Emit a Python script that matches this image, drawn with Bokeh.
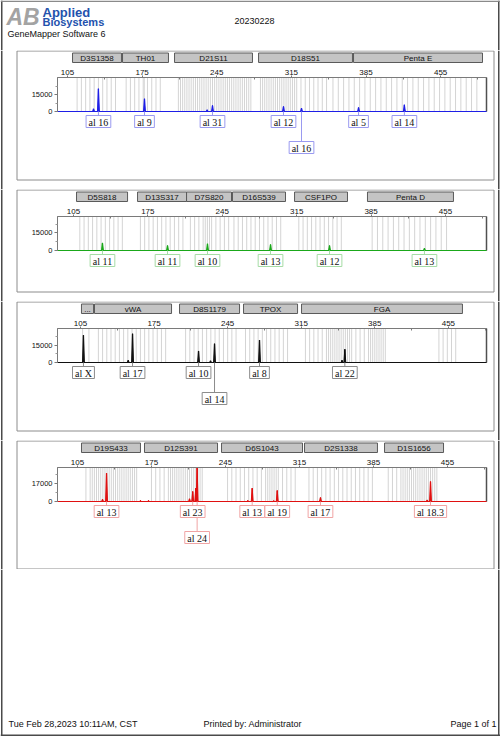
from bokeh.plotting import figure
from bokeh.layouts import column
from bokeh.models import Range1d, FixedTicker
from bokeh.embed import file_html
from bokeh.resources import INLINE
from bokeh.core.properties import value

# ---------------- data ----------------
report_date = "20230228"
software_name = "GeneMapper Software 6"
logo_mark = "AB"
logo_word1 = "Applied"
logo_word2 = "Biosystems"
footer_left = "Tue Feb 28,2023 10:11AM, CST"
footer_mid = "Printed by: Administrator"
footer_right = "Page 1 of 1"

size_ticks = [105, 175, 245, 315, 385, 455]
size_minor_ticks = [140, 210, 280, 350, 420, 490]

# blue dye panel
blue_markers = ["D3S1358", "TH01", "D21S11", "D18S51", "Penta E"]
blue_marker_start = [109.7, 156.6, 205.4, 284.2, 373.3]
blue_marker_end = [155.6, 199.7, 278.5, 372.3, 494.3]
blue_bins = [114, 118, 122, 126, 130, 134, 138, 142, 146, 150,
             160, 164, 168, 172, 176, 177, 180, 184, 188, 192,
             209, 211, 213, 215, 217, 219, 221, 223, 225, 227, 229, 231, 233, 235,
             237, 239, 241, 243, 245, 247, 249, 251, 253, 255, 257, 259, 261, 263,
             265, 267, 269, 271, 273, 275, 277,
             286, 288, 290, 292, 294, 296, 298, 300, 302, 304, 306, 308, 310, 312,
             314, 316, 318, 320, 324, 328, 332, 336, 340, 344, 348,
             354, 359, 364, 369, 374, 379, 384, 389, 394, 399, 404, 409, 414, 419,
             424, 429, 434, 439, 444, 449, 454, 459, 464, 469, 474, 479, 484, 489]
blue_peak_bp = [129.4, 134.0, 177.2, 236.0, 241.0, 307.6, 324.5, 378.0, 421.0]
blue_peak_rfu = [2400, 20400, 11400, 1500, 5400, 4500, 3000, 3600, 6000]
blue_allele_bp = [134.0, 177.2, 241.0, 307.6, 324.5, 378.0, 421.0]
blue_allele_text = ["al 16", "al 9", "al 31", "al 12", "al 16", "al 5", "al 14"]
blue_allele_row = [0, 0, 0, 0, 1, 0, 0]
blue_y_max = 30500
blue_y_tick = 15000

# green dye panel
green_markers = ["D5S818", "D13S317", "D7S820", "D16S539", "CSF1PO", "Penta D"]
green_marker_start = [107.9, 165.3, 211.4, 254.6, 313.0, 381.6]
green_marker_end = [155.9, 211.4, 253.7, 304.5, 362.8, 462.5]
green_bins = [111, 115, 119, 123, 127, 131, 135, 139, 143, 147, 151,
              168, 172, 176, 180, 184, 188, 192, 196, 200, 204, 208,
              215, 219, 223, 227, 229, 231, 233, 235, 239, 243, 247, 251,
              256, 260, 264, 268, 272, 276, 280, 284, 288, 292, 296, 300,
              317, 321, 325, 329, 333, 337, 341, 345, 349, 353, 357,
              386, 391, 396, 401, 406, 411, 416, 421, 426, 431, 436, 441, 446, 451, 456]
green_peak_bp = [132.3, 193.5, 231.1, 290.4, 345.9, 435.2]
green_peak_rfu = [6500, 4200, 5700, 5100, 4200, 2000]
green_allele_bp = [132.3, 193.5, 231.1, 290.4, 345.9, 435.2]
green_allele_text = ["al 11", "al 11", "al 10", "al 13", "al 12", "al 13"]
green_allele_row = [0, 0, 0, 0, 0, 0]
green_y_max = 29000
green_y_tick = 15000

# black (yellow dye) panel
black_markers = ["...", "vWA", "D8S1179", "TPOX", "FGA"]
black_marker_start = [105.9, 118.3, 199.2, 260.1, 315.3]
black_marker_end = [117.4, 191.6, 256.3, 311.5, 468.4]
black_bins = [107, 113,
              122, 126, 130, 134, 138, 142, 146, 150, 154, 158, 162, 166, 170, 174, 178, 182, 186,
              205, 209, 213, 217, 221, 225, 229, 233, 237, 241, 245, 249, 253,
              262, 266, 270, 274, 278, 282, 286, 290, 294, 298, 302,
              319, 323, 327, 331, 335, 339, 341, 343, 345, 347, 349, 351, 353, 355, 357,
              359, 361, 363, 367, 371, 375, 379, 381, 383, 385, 387, 389, 391, 393, 395,
              446, 450, 454, 458, 462]
black_peak_bp = [107.8, 150.4, 154.5, 217.3, 228.7, 232.5, 275.3, 353.8, 356.5]
black_peak_rfu = [23700, 2000, 25100, 10100, 1500, 16400, 19600, 2000, 11500]
black_allele_bp = [107.8, 154.5, 217.3, 232.5, 275.3, 356.5]
black_allele_text = ["al X", "al 17", "al 10", "al 14", "al 8", "al 22"]
black_allele_row = [0, 0, 0, 1, 0, 0]
black_y_max = 29700
black_y_tick = 15000

# red dye panel
red_markers = ["D19S433", "D12S391", "D6S1043", "D2S1338", "D1S1656"]
red_marker_start = [108.8, 168.4, 241.3, 319.8, 395.5]
red_marker_end = [164.6, 237.5, 317.9, 388.8, 451.3]
red_bins = [113, 117, 119, 121, 123, 125, 127, 129, 131, 133, 135, 137, 139, 141, 143, 145,
            147, 149, 151, 153, 155, 157, 159, 161,
            175, 179, 183, 187, 191, 193, 195, 197, 199, 201, 203, 205, 207, 209, 211, 213,
            215, 217, 219, 221, 223,
            247, 251, 255, 259, 263, 267, 271, 275, 279, 283, 285, 287, 289, 291, 293, 295,
            299, 303, 307, 311,
            324, 328, 332, 336, 340, 344, 348, 352, 356, 360, 364, 368, 372, 376, 380, 384,
            399, 403, 407, 411, 413, 415, 417, 419, 421, 423, 425, 427, 429, 431, 433, 435,
            437, 439, 441, 443, 445]
red_peak_bp = [128.7, 132.5, 164.6, 172.2, 211.0, 214.0, 216.9, 218.2, 266.1, 270.3,
               290.7, 294.0, 334.9, 435.9, 439.0]
red_peak_rfu = [2000, 26300, 1000, 1000, 2500, 9300, 12400, 40000, 1000, 12400,
                800, 10200, 3700, 1500, 18500]
red_allele_bp = [132.5, 214.0, 218.2, 270.3, 294.0, 334.9, 439.0]
red_allele_text = ["al 13", "al 23", "al 24", "al 13", "al 19", "al 17", "al 18.3"]
red_allele_row = [0, 0, 1, 0, 0, 0, 0]
red_y_max = 31600
red_y_tick = 17000

# ---------------- layout / style ----------------
SANS = "Liberation Sans"
SERIF = "Liberation Serif"
W = 500
PX0, PX1 = 0, 500          # page pixel span covered by the figures
BORDER = "#4a4a4a"

CHAR_W = {"a": 4.44, "l": 2.78, " ": 2.5, ".": 2.5, "X": 7.22}


def label_width(s):
    return sum(CHAR_W.get(c, 5.0) for c in s) + 5


def page_borders(p, y_top, y_bottom, **kw):
    p.segment(x0=[1.25, 498.25], y0=[y_top, y_top],
              x1=[1.25, 498.25], y1=[y_bottom, y_bottom],
              line_color=BORDER, line_width=1.5, **kw)


def make_panel(top, panel_h, fig_h, x0, k, y_max, y_tick, color, soft_color,
               markers, m_start, m_end, bins, peak_bp, peak_rfu,
               al_bp, al_text, al_row):
    plot_top = top + 27
    plot_bot = top + 61
    s = y_max / (plot_bot - plot_top)
    y_start = -(top + fig_h - plot_bot) * s
    y_end = y_max + (plot_top - top) * s
    x_start = x0 + (PX0 - 57) / k
    x_end = x0 + (PX1 - 57) / k
    plot_left = x0
    plot_right = x0 + (486 - 57) / k

    p = figure(width=W, height=fig_h, x_range=Range1d(x_start, x_end),
               y_range=Range1d(y_start, y_end), x_axis_location="above",
               y_axis_location="left", toolbar_location=None, output_backend="svg",
               min_border=0, outline_line_color=None,
               background_fill_color="white", border_fill_color="white")
    p.title.visible = False
    p.grid.visible = False
    p.extra_x_ranges = {"px": Range1d(PX0, PX1)}
    p.extra_y_ranges = {"px": Range1d(top + fig_h, top)}
    px = dict(x_range_name="px", y_range_name="px")

    page_borders(p, top, top + fig_h, **px)
    # panel frame
    p.quad(left=[16.5], right=[493.5], top=[top + 0.5], bottom=[top + panel_h - 0.5],
           fill_color=None, line_color="#8c8c8c", line_width=1, **px)

    # marker header bars
    p.quad(left=m_start, right=m_end, top=[top + 2.5] * len(markers),
           bottom=[top + 12] * len(markers), fill_color="#c4c4c4",
           line_color="#5a5a5a", line_width=1, y_range_name="px")
    p.text(x=[(a + b) / 2 for a, b in zip(m_start, m_end)], y=[top + 7.5] * len(markers),
           text=markers, text_font=value(SANS), text_font_size="8px",
           text_color="#111111", text_align="center", text_baseline="middle",
           y_range_name="px")

    # bins
    p.segment(x0=bins, y0=[0] * len(bins), x1=bins, y1=[y_max] * len(bins),
              line_color="#d4d4d4", line_width=1)
    # plot box
    p.quad(left=[plot_left], right=[plot_right], bottom=[0], top=[y_max],
           fill_color=None, line_color="#8a8a8a", line_width=1)
    p.segment(x0=[plot_right], y0=[0], x1=[plot_right], y1=[y_max],
              line_color="#505050", line_width=1.5)

    # peaks (off-scale peaks are clipped at the plot top)
    clip = [min(h, y_max) for h in peak_rfu]
    p.patches(xs=[[b - 0.9, b, b + 0.9] for b in peak_bp],
              ys=[[0, h, 0] for h in clip],
              fill_color=color, line_color=color, line_width=1)
    p.segment(x0=peak_bp, y0=[0] * len(peak_bp), x1=peak_bp, y1=clip,
              line_color=color, line_width=1.3)
    # baseline
    p.segment(x0=[plot_left], y0=[0], x1=[plot_right], y1=[0],
              line_color=color, line_width=1.2)

    # allele labels
    row_y = [top + 71 + 26 * r for r in al_row]
    p.segment(x0=al_bp, y0=[plot_bot] * len(al_bp), x1=al_bp, y1=[y - 6 for y in row_y],
              line_color=soft_color, line_width=1, y_range_name="px")
    p.rect(x=al_bp, y=row_y, width=[label_width(t) for t in al_text],
           height=[12] * len(al_bp), width_units="screen", height_units="screen",
           fill_color="white", line_color=soft_color, line_width=1, y_range_name="px")
    p.text(x=al_bp, y=[y + 0.5 for y in row_y], text=al_text, text_font=value(SERIF),
           text_font_size="10px", text_color="#111111", text_align="center",
           text_baseline="middle", y_range_name="px")

    # axes
    xa = p.xaxis[0]
    xa.fixed_location = y_max
    xa.ticker = FixedTicker(ticks=size_ticks, minor_ticks=size_minor_ticks)
    xa.bounds = (plot_left, plot_right)
    xa.axis_line_color = "#7a7a7a"
    xa.major_tick_line_color = "#7a7a7a"
    xa.major_tick_in = 0
    xa.major_tick_out = 2
    xa.minor_tick_line_color = "#7a7a7a"
    xa.minor_tick_in = 2
    xa.minor_tick_out = 0
    xa.major_label_text_font = SANS
    xa.major_label_text_font_size = "8px"
    xa.major_label_text_color = "#111111"
    xa.major_label_standoff = 1

    ya = p.yaxis[0]
    ya.fixed_location = plot_left
    ya.ticker = FixedTicker(ticks=[0, y_tick], minor_ticks=[y_tick / 2, y_tick * 1.5])
    ya.bounds = (0, y_max)
    ya.axis_line_color = "#7a7a7a"
    ya.major_tick_line_color = "#7a7a7a"
    ya.major_tick_in = 0
    ya.major_tick_out = 3
    ya.minor_tick_line_color = "#9a9a9a"
    ya.minor_tick_in = 0
    ya.minor_tick_out = 2
    ya.major_label_text_font = SANS
    ya.major_label_text_font_size = "7.5px"
    ya.major_label_text_color = "#111111"
    ya.major_label_standoff = 2
    return p


def plain_fig(y_top, y_bottom):
    p = figure(width=W, height=y_bottom - y_top, x_range=Range1d(PX0, PX1),
               y_range=Range1d(y_bottom, y_top), x_axis_location=None,
               y_axis_location=None, toolbar_location=None, output_backend="svg",
               min_border=0, outline_line_color=None,
               background_fill_color="white", border_fill_color="white")
    p.title.visible = False
    p.xgrid.visible = False
    p.ygrid.visible = False
    page_borders(p, y_top, y_bottom)
    return p


# header
hdr = plain_fig(0, 50)
hdr.segment(x0=[PX0], y0=[0.75], x1=[PX1], y1=[0.75], line_color="#8a8a8a", line_width=1.5)
hdr.text(x=[6], y=[16.5], text=[logo_mark], text_font=value(SANS), text_font_size="23px",
         text_font_style="bold italic", text_color="#a3a3a3", text_align="left",
         text_baseline="middle")
hdr.text(x=[42], y=[11.5], text=[logo_word1], text_font=value(SANS), text_font_size="13px",
         text_font_style="bold", text_color="#2352ad", text_align="left",
         text_baseline="middle")
hdr.text(x=[42], y=[21], text=[logo_word2], text_font=value(SANS), text_font_size="11px",
         text_font_style="bold", text_color="#2352ad", text_align="left",
         text_baseline="middle")
hdr.text(x=[7], y=[33], text=[software_name], text_font=value(SANS), text_font_size="9px",
         text_color="#111111", text_align="left", text_baseline="middle")
hdr.text(x=[254], y=[20], text=[report_date], text_font=value(SANS), text_font_size="9px",
         text_color="#111111", text_align="center", text_baseline="middle")

p1 = make_panel(50, 130, 139, 95.6, 1.066, blue_y_max, blue_y_tick, "#1e1ee6", "#9a9af0",
                blue_markers, blue_marker_start, blue_marker_end, blue_bins,
                blue_peak_bp, blue_peak_rfu, blue_allele_bp, blue_allele_text, blue_allele_row)
p2 = make_panel(189, 103, 112, 90.0, 1.063, green_y_max, green_y_tick, "#1aa81a", "#a6dca6",
                green_markers, green_marker_start, green_marker_end, green_bins,
                green_peak_bp, green_peak_rfu, green_allele_bp, green_allele_text,
                green_allele_row)
p3 = make_panel(301, 130, 139, 83.1, 1.051, black_y_max, black_y_tick, "#111111", "#8c8c8c",
                black_markers, black_marker_start, black_marker_end, black_bins,
                black_peak_bp, black_peak_rfu, black_allele_bp, black_allele_text,
                black_allele_row)
p4 = make_panel(440, 129, 129, 86.1, 1.057, red_y_max, red_y_tick, "#e01010", "#f0a4a4",
                red_markers, red_marker_start, red_marker_end, red_bins,
                red_peak_bp, red_peak_rfu, red_allele_bp, red_allele_text, red_allele_row)

# footer
ftr = plain_fig(569, 736)
ftr.segment(x0=[PX0], y0=[734.75], x1=[PX1], y1=[734.75], line_color=BORDER, line_width=1.5)
ftr.text(x=[8], y=[723], text=[footer_left], text_font=value(SANS), text_font_size="9px",
         text_color="#111111", text_align="left", text_baseline="middle")
ftr.text(x=[203], y=[723], text=[footer_mid], text_font=value(SANS), text_font_size="9px",
         text_color="#111111", text_align="left", text_baseline="middle")
ftr.text(x=[496], y=[723], text=[footer_right], text_font=value(SANS), text_font_size="9px",
         text_color="#111111", text_align="right", text_baseline="middle")

page = column(hdr, p1, p2, p3, p4, ftr, spacing=0)
open("out.html", "w").write(file_html(page, INLINE))
